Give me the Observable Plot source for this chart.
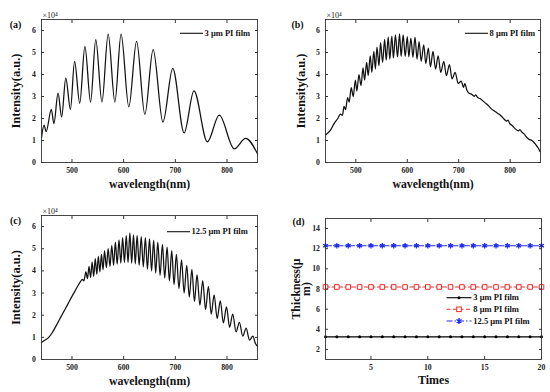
<!DOCTYPE html>
<html><head><meta charset="utf-8">
<script src="https://cdn.jsdelivr.net/npm/d3@7"></script>
<script src="https://cdn.jsdelivr.net/npm/@observablehq/plot@0.6"></script>
<style>
body{margin:0;background:#fff;}
#root{position:relative;width:550px;height:392px;overflow:hidden;font-family:"Liberation Serif","DejaVu Serif",serif;}
.panel{position:absolute;}
.panel svg{display:block;}
#overlay{position:absolute;left:0;top:0;pointer-events:none;}
</style></head><body><div id="root"></div>
<script>
// ---------- data (intensity in units of 10^4) ----------
const aWl  = [441,446,450,460,465,473,480,488,497,505,515,525,536,546,558,570,583,595,610,625,641,657,676,695,717,736,762,785,814,836,859];
const aInt = [1.13,1.7,1.4,2.42,1.77,3.15,2.07,3.84,2.42,4.6,2.69,5.28,2.75,5.59,2.75,5.84,2.75,5.84,2.53,5.51,2.19,5.13,1.84,4.28,1.35,3.26,0.94,2.15,0.62,1.1,0.4];

const bWl  = [441,450,458,465,470,474,477,480,484,487,491,495,499,502,506,510,514,517,521,524,528,531,535,538,541,545,548,552,556,559,563,566,570,573,577,581,585,588,592,596,600,603,607,611,615,619,623,627,632,636,641,645,650,655,660,665,671,676,682,687,693,699,705,709,712,716,720,724,728,730,733,737,742,747,752,757,763,768,773,778,783,788,793,796,799,804,809,816,819,822,827,832,837,842,846,850,854,858];
const bInt = [1.25,1.45,1.78,2.0,2.2,2.15,2.55,2.4,2.95,2.75,3.4,3.0,3.75,3.25,4.0,3.5,4.3,3.75,4.55,3.95,4.85,4.1,5.05,4.25,5.25,4.4,5.45,4.55,5.6,4.65,5.7,4.7,5.75,4.75,5.8,4.8,5.85,4.82,5.8,4.82,5.72,4.8,5.65,4.78,5.7,4.7,5.5,4.6,5.35,4.5,5.2,4.35,5.05,4.25,4.85,4.1,4.6,3.95,4.45,3.8,4.1,3.6,3.7,3.42,3.58,3.28,3.15,3.12,3.04,3.01,3.07,2.95,2.9,2.8,2.7,2.6,2.45,2.36,2.28,2.2,2.1,1.98,1.88,1.93,1.78,1.68,1.55,1.44,1.5,1.4,1.3,1.15,1.05,1.0,0.92,0.8,0.68,0.5];

const cWl  = [441,448,455,462,470,478,485,492,500,506,512,516,520,523,527,530,533,536,539,542,545,548,551,554,557,560,563,566.5,570,573.5,577,580.5,584,587.5,591,594.5,598,601.5,605,608.5,612,615.5,619,622.5,626,630,634,638,642,646,650,654,658,662,666,670.5,675,679.5,684,688.5,693,697.5,702,707,712,717,722,727,732,737,742,747.5,753,758.5,764,769.5,775,781,787,793,799,805,811,817.5,824,830.5,837,843.5,850,855,859];
const cInt = [0.78,0.88,1.0,1.22,1.55,1.9,2.2,2.5,2.85,3.1,3.35,3.5,3.62,3.55,3.95,3.65,4.2,3.7,4.4,3.75,4.55,3.85,4.65,3.95,4.75,4.05,4.9,4.15,5.0,4.2,5.15,4.25,5.3,4.3,5.4,4.35,5.5,4.38,5.6,4.38,5.72,4.35,5.62,4.32,5.6,4.25,5.55,4.18,5.5,4.08,5.45,4.0,5.38,3.9,5.3,3.8,5.2,3.68,5.07,3.55,4.92,3.38,4.75,3.2,4.5,3.0,4.25,2.82,4.07,2.62,3.82,2.45,3.56,2.25,3.3,2.05,2.92,1.85,2.65,1.65,2.37,1.45,2.05,1.25,1.68,1.05,1.42,0.88,1.05,0.72,0.6];

const times   = [1,2,3,4,5,6,7,8,9,10,11,12,13,14,15,16,17,18,19,20];
const thick3  = [3.25,3.25,3.25,3.25,3.25,3.25,3.25,3.25,3.25,3.25,3.25,3.25,3.25,3.25,3.25,3.25,3.25,3.25,3.25,3.25];
const thick8  = [8.2,8.2,8.2,8.2,8.2,8.2,8.2,8.2,8.2,8.2,8.2,8.2,8.2,8.2,8.2,8.2,8.2,8.2,8.2,8.2];
const thick12 = [12.3,12.3,12.3,12.3,12.3,12.3,12.3,12.3,12.3,12.3,12.3,12.3,12.3,12.3,12.3,12.3,12.3,12.3,12.3,12.3];

const wlTicks  = [500,600,700,800];
const intTicks = [0,1,2,3,4,5,6];
const tTicks   = [5,10,15,20];
const thTicks  = [2,4,6,8,10,12,14];
const seriesNames = ["3 μm PI film","8 μm PI film","12.5 μm PI film"];

// ---------- layout ----------
const FONT = '"Liberation Serif","DejaVu Serif",serif';
const root = document.getElementById("root");

function boxAxes(xt, yt) {
  return [
    Plot.axisX(xt, {anchor:"bottom", tickSize:-3, tickPadding:7.5, label:null, stroke:"#333"}),
    Plot.axisX(xt, {anchor:"top", tickSize:-3, tickFormat:()=>"", label:null, stroke:"#333"}),
    Plot.axisY(yt, {anchor:"left", tickSize:-3, tickPadding:8.5, label:null, stroke:"#333"}),
    Plot.axisY(yt, {anchor:"right", tickSize:-3, tickFormat:()=>"", label:null, stroke:"#333"}),
    Plot.frame({stroke:"#333", strokeWidth:0.9})
  ];
}

function place(fig, left, top) {
  const d = document.createElement("div");
  d.className = "panel";
  d.style.left = left + "px"; d.style.top = top + "px";
  d.appendChild(fig);
  root.appendChild(d);
}

const txt = {textAnchor: "middle", lineAnchor: "middle", fontWeight: "bold", fill: "#111"};

function spectrum(o) {
  const data = o.wl.map((w, i) => ({w, v: o.val[i]}));
  return Plot.plot({
    width: 275, height: 196,
    marginLeft: o.ml, marginRight: o.mr, marginTop: o.mt, marginBottom: o.mb,
    style: {fontFamily: FONT, fontSize: "7.8px", fontWeight: "bold", color: "#222", background: "transparent", overflow: "visible"},
    x: {domain: [441, 859]},
    y: {domain: [0, 6.5]},
    marks: [
      Plot.line(data, {x: "w", y: "v", curve: "monotone-x", stroke: "#111", strokeWidth: 1.25}),
      ...boxAxes(wlTicks, intTicks),
      Plot.text([o.tag], {...txt, frameAnchor: "top-left", dx: o.tagDx, dy: 5, fontSize: 10}),
      Plot.text(["×10⁴"], {...txt, frameAnchor: "top-left", textAnchor: "start", dx: 1, dy: -4, fontSize: 8, fontWeight: "normal", fill: "#222"}),
      Plot.text(["wavelength(nm)"], {...txt, frameAnchor: "bottom", dy: 21.5, fontSize: 11.8}),
      Plot.text(["Intensity(a.u.)"], {...txt, frameAnchor: "left", dx: o.ylabDx, rotate: -90, fontSize: 12.5})
    ]
  });
}

place(spectrum({wl: aWl, val: aInt, ml: 41, mr: 18, mt: 19, mb: 34, tag: "(a)", tagDx: -26, ylabDx: -26}), 0, 0);
place(spectrum({wl: bWl, val: bInt, ml: 50, mr: 10, mt: 19, mb: 34, tag: "(b)", tagDx: -28, ylabDx: -25}), 275, 0);
place(spectrum({wl: cWl, val: cInt, ml: 41, mr: 18, mt: 19, mb: 33, tag: "(c)", tagDx: -26, ylabDx: -26}), 0, 196);

// panel (d)
const d3rows = times.map((t, i) => ({t, v: thick3[i]}));
const d8rows = times.map((t, i) => ({t, v: thick8[i]}));
const d12rows = times.map((t, i) => ({t, v: thick12[i]}));
const RED = "#f02a2a", BLUE = "#1f2cf0";
const figD = Plot.plot({
  width: 275, height: 196,
  marginLeft: 50, marginRight: 9, marginTop: 22, marginBottom: 33,
  style: {fontFamily: FONT, fontSize: "7.8px", fontWeight: "bold", color: "#222", background: "transparent", overflow: "visible"},
  x: {domain: [1, 20]},
  y: {domain: [1, 15]},
  marks: [
    Plot.line(d3rows, {x: "t", y: "v", stroke: "#000", strokeWidth: 1.1}),
    Plot.dot(d3rows, {x: "t", y: "v", r: 1.5, fill: "#000"}),
    Plot.line(d8rows, {x: "t", y: "v", stroke: RED, strokeWidth: 1.1, strokeDasharray: "4,2.5"}),
    Plot.dot(d8rows, {x: "t", y: "v", symbol: "square", r: 2.6, stroke: RED, strokeWidth: 1, fill: "white"}),
    Plot.line(d12rows, {x: "t", y: "v", stroke: BLUE, strokeWidth: 1.1, strokeDasharray: "6,2,1.5,2"}),
    Plot.dot(d12rows, {x: "t", y: "v", symbol: "asterisk", r: 2.6, stroke: BLUE, strokeWidth: 1.3}),
    Plot.dot(d12rows, {x: "t", y: "v", r: 1.4, fill: BLUE}),
    ...boxAxes(tTicks, thTicks),
    Plot.text(["(d)"], {...txt, frameAnchor: "top-left", dx: -27, dy: 3, fontSize: 10}),
    Plot.text(["Times"], {...txt, frameAnchor: "bottom", dy: 20.5, fontSize: 12}),
    Plot.text(["Thickness(μ\nm)"], {...txt, frameAnchor: "left", dx: -23.5, rotate: -90, lineHeight: 0.85, fontSize: 11.8})
  ]
});
place(figD, 275, 196);

// ---------- legends (overlay) ----------
const ov = d3.select(root).append("svg").attr("id", "overlay").attr("width", 550).attr("height", 392)
  .style("font-family", FONT).style("font-weight", "bold").style("font-size", "8.5px");

function simpleLegend(x0, x1, y, label) {
  ov.append("line").attr("x1", x0).attr("x2", x1).attr("y1", y).attr("y2", y).attr("stroke", "#111").attr("stroke-width", 1.1);
  ov.append("text").attr("x", x1 + 1.5).attr("y", y).attr("dy", "0.32em").attr("fill", "#111").text(label);
}
simpleLegend(180, 203, 33.3, seriesNames[0]);
simpleLegend(465, 488, 33.3, seriesNames[1]);
simpleLegend(167, 190, 231.7, seriesNames[2]);

const legD = [
  {y: 297.7, color: "#000", dash: null, marker: "dot"},
  {y: 309.3, color: RED, dash: "4,2.5", marker: "square"},
  {y: 321, color: BLUE, dash: "6,2,1.5,2", marker: "star"}
];
legD.forEach((e, i) => {
  const ln = ov.append("line").attr("x1", 446.5).attr("x2", 471.5).attr("y1", e.y).attr("y2", e.y)
    .attr("stroke", e.color).attr("stroke-width", 1.1);
  if (e.dash) ln.attr("stroke-dasharray", e.dash);
  const cx = 459;
  if (e.marker === "dot") ov.append("circle").attr("cx", cx).attr("cy", e.y).attr("r", 1.5).attr("fill", "#000");
  if (e.marker === "square") ov.append("rect").attr("x", cx - 2.3).attr("y", e.y - 2.3).attr("width", 4.6).attr("height", 4.6)
    .attr("fill", "white").attr("stroke", RED).attr("stroke-width", 1);
  if (e.marker === "star") {
    ov.append("path").attr("d", d3.symbol(d3.symbolAsterisk, 24)()).attr("transform", `translate(${cx},${e.y})`)
      .attr("stroke", BLUE).attr("stroke-width", 1.3).attr("fill", "none");
    ov.append("circle").attr("cx", cx).attr("cy", e.y).attr("r", 1.4).attr("fill", BLUE);
  }
  ov.append("text").attr("x", 473.3).attr("y", e.y).attr("dy", "0.32em").attr("fill", "#111").text(seriesNames[i]);
});
</script></body></html>
